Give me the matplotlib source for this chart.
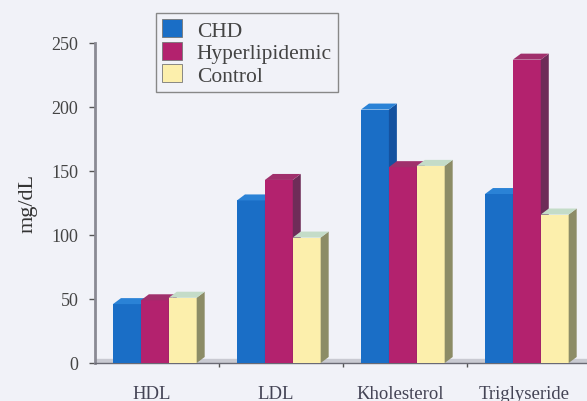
import numpy as np
import matplotlib.pyplot as plt
from matplotlib.patches import Polygon, Rectangle

plt.rcParams['font.family'] = ['Liberation Serif', 'DejaVu Serif']

categories = ['HDL', 'LDL', 'Kholesterol', 'Triglyseride']
series = ['CHD', 'Hyperlipidemic', 'Control']
chd = [46, 127, 198, 132]
hyper = [49, 143, 153, 237]
control = [51, 98, 154, 116]
values = [chd, hyper, control]

front = ['#1a6ec6', '#b3226e', '#fcefac']
side = ['#1452a0', '#6e2c58', '#8c8c66']
top = ['#2a82d6', '#a0306c', '#c4dcc8']

bg = '#f1f2f8'
fig = plt.figure(figsize=(5.87, 4.02), dpi=100, facecolor=bg)
ax = fig.add_axes([95 / 587, 38 / 402, 496 / 587, 320 / 402], facecolor=bg)
ax.set_xlim(0, 4)
ax.set_ylim(0, 250)

# depth of the fake 3D effect, in pixels -> data units
dx = 8 * 4 / 496
dy = 6 * 250 / 320
bw = 0.225
start = 0.145

for i in range(len(categories)):
    for j in range(len(series)):
        x0 = i + start + j * bw
        h = values[j][i]
        ax.add_patch(Rectangle((x0, 0), bw, h, facecolor=front[j],
                               edgecolor='none', zorder=3, clip_on=False))
        ax.add_patch(Polygon([(x0 + bw, 0), (x0 + bw + dx, dy),
                              (x0 + bw + dx, h + dy), (x0 + bw, h)],
                             facecolor=side[j], edgecolor='none', zorder=3,
                             clip_on=False))
        ax.add_patch(Polygon([(x0, h), (x0 + dx, h + dy),
                              (x0 + bw + dx, h + dy), (x0 + bw, h)],
                             facecolor=top[j], edgecolor='none', zorder=3,
                             clip_on=False))

# floor strip
ax.axhspan(0, 3, color='#c9cad2', zorder=1)

for s in ['top', 'right']:
    ax.spines[s].set_visible(False)
ax.spines['left'].set_color('#8a8a94')
ax.spines['left'].set_linewidth(2)
ax.spines['bottom'].set_color('#6a6a74')
ax.spines['bottom'].set_linewidth(1)

ax.set_yticks(np.arange(0, 251, 50))
ax.tick_params(axis='y', colors='#444444', labelsize=13, length=4,
               width=1, color='#555555', pad=8)
ax.set_xticks([1, 2, 3])
ax.set_xticklabels([])
ax.tick_params(axis='x', length=3, width=1, color='#555555')
for i, c in enumerate(categories):
    ax.text(i + 0.46, -17, c, ha='center', va='top', fontsize=13.5,
            color='#444455')

ax.set_ylabel('mg/dL', fontsize=16, color='#333333', labelpad=10)

handles = [Rectangle((0, 0), 1, 1, facecolor=front[j], edgecolor='#777777',
                     linewidth=0.6) for j in range(3)]
leg = fig.legend(handles, series, loc='upper left',
                 bbox_to_anchor=(156 / 587, 1 - 14 / 402), fontsize=15.5,
                 frameon=True, fancybox=False, edgecolor='#888888',
                 facecolor=bg, framealpha=1, handlelength=0.9,
                 handleheight=0.9, handletextpad=0.7, labelspacing=0.05,
                 borderpad=0.3, borderaxespad=0)
leg.get_frame().set_linewidth(1)
for t in leg.get_texts():
    t.set_color('#444444')

fig.savefig('out.png', dpi=100, facecolor=bg)
